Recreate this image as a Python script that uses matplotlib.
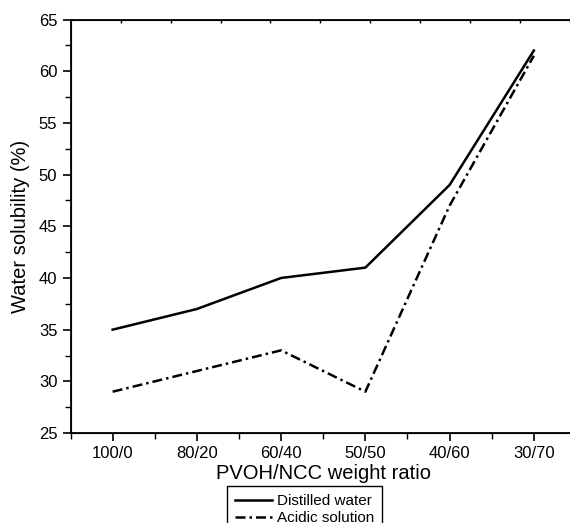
import matplotlib

matplotlib.use("Agg")
import matplotlib.pyplot as plt
from matplotlib.ticker import AutoMinorLocator, MultipleLocator

plt.rcParams["font.family"] = ["Liberation Sans", "DejaVu Sans"]

ratios = ["100/0", "80/20", "60/40", "50/50", "40/60", "30/70"]
distilled = [35, 37, 40, 41, 49, 62]
acidic = [29, 31, 33, 29, 47, 61.5]

fig = plt.figure(figsize=(5.7, 5.23), dpi=100)
ax = fig.add_axes([0.1237, 0.172, 0.8868, 0.7907])

x = list(range(len(ratios)))
ax.plot(x, distilled, color="black", lw=1.8, ls="-", label="Distilled water")
ax.plot(x, acidic, color="black", lw=1.8, ls=(0, (4, 1.6, 1.0, 1.6)),
        label="Acidic solution")

ax.set_xlim(-0.5, 5.5)
ax.set_ylim(25, 65)
ax.set_xticks(x)
ax.set_xticklabels(ratios)
ax.xaxis.set_minor_locator(MultipleLocator(0.5))
ax.yaxis.set_major_locator(MultipleLocator(5))
ax.yaxis.set_minor_locator(AutoMinorLocator(2))
ax.tick_params(which="major", direction="out", length=6, width=1.2,
               labelsize=12)
ax.tick_params(which="minor", direction="out", length=4, width=1.0)
for s in ax.spines.values():
    s.set_linewidth(1.3)

# small unlabeled ticks along the top frame
top = ax.twiny()
top.set_xlim(0, (576 - 70.5) / 50)
top.set_xticks(range(1, 11))
top.set_xticklabels([])
top.tick_params(direction="in", length=2, width=1.0)

ax.set_xlabel("PVOH/NCC weight ratio", fontsize=14.5, labelpad=2)
ax.set_ylabel("Water solubility (%)", fontsize=14.5, labelpad=6)

leg = fig.legend(loc="upper left", bbox_to_anchor=(227 / 570, 1 - 486 / 523),
                 fontsize=11, frameon=True, fancybox=False, edgecolor="black",
                 framealpha=1, handlelength=2.4, handletextpad=0.3,
                 borderpad=0.55, labelspacing=0.2, borderaxespad=0)
leg.get_frame().set_linewidth(1.0)

fig.savefig("out.png", dpi=100, facecolor="white")
